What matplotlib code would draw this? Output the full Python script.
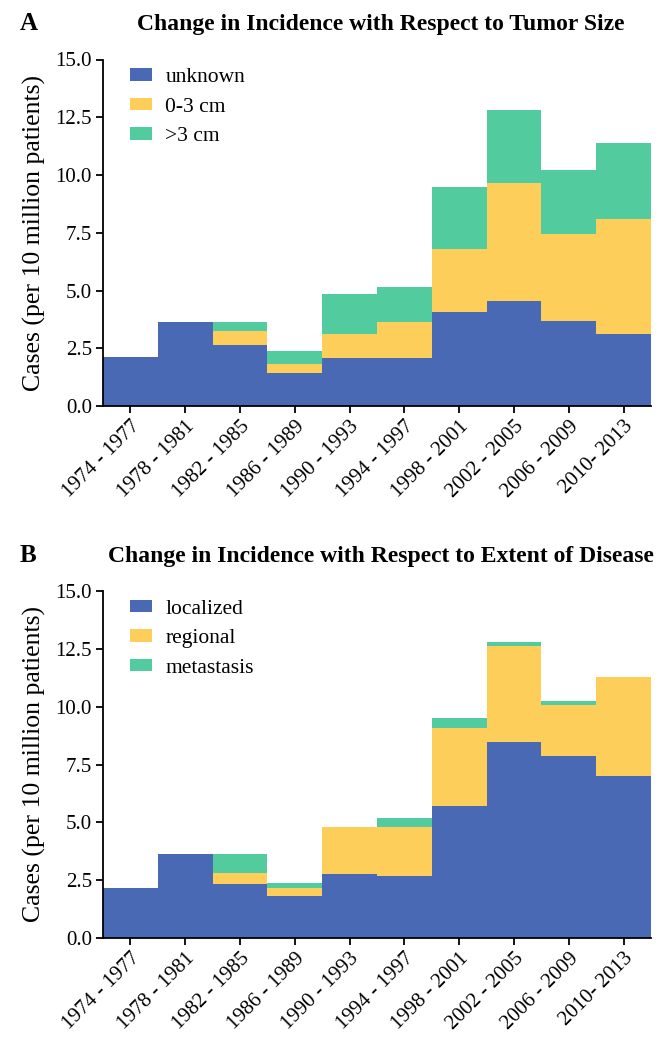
import matplotlib
matplotlib.use("Agg")
import matplotlib.pyplot as plt
from matplotlib.patches import Patch
import numpy as np

plt.rcParams['font.family'] = ['Liberation Serif', 'DejaVu Serif']

periods = ["1974 - 1977", "1978 - 1981", "1982 - 1985", "1986 - 1989", "1990 - 1993",
           "1994 - 1997", "1998 - 2001", "2002 - 2005", "2006 - 2009", "2010- 2013"]

# Panel A: tumor size
size_unknown = [2.13, 3.64, 2.63, 1.45, 2.07, 2.07, 4.07, 4.56, 3.69, 3.12]
size_0_3cm   = [0.00, 0.00, 0.63, 0.38, 1.06, 1.57, 2.74, 5.11, 3.74, 4.98]
size_gt3cm   = [0.00, 0.00, 0.38, 0.56, 1.74, 1.53, 2.65, 3.15, 2.77, 3.30]

# Panel B: extent of disease
ext_localized  = [2.14, 3.62, 2.32, 1.82, 2.76, 2.70, 5.69, 8.48, 7.88, 7.01]
ext_regional   = [0.00, 0.00, 0.49, 0.32, 2.05, 2.11, 3.37, 4.15, 2.19, 4.29]
ext_metastasis = [0.00, 0.00, 0.81, 0.23, 0.00, 0.38, 0.44, 0.18, 0.19, 0.00]

labels_a = ["unknown", "0-3 cm", ">3 cm"]
labels_b = ["localized", "regional", "metastasis"]
colors = ["#4A69B5", "#FECE5B", "#52CC9F"]

W, H = 665, 1050
fig = plt.figure(figsize=(W / 100, H / 100), dpi=100)

def px_axes(left, top, right, bottom):
    return fig.add_axes([left / W, 1 - bottom / H, (right - left) / W, (bottom - top) / H])

def panel(ax, series, labels, title, letter, base_y):
    x = np.arange(len(periods))
    bottom = np.zeros(len(periods))
    for vals, c in zip(series, colors):
        v = np.array(vals)
        ax.bar(x, v, width=1.0, bottom=bottom, color=c, linewidth=0, align='center')
        bottom += v
    ax.set_xlim(-0.5, len(periods) - 0.5)
    ax.set_ylim(0, 15)
    yt = np.arange(0, 15.01, 2.5)
    ax.set_yticks(yt)
    ax.set_yticklabels([f"{t:.1f}" for t in yt], fontsize=15)
    ax.set_xticks(x)
    ax.set_xticklabels(periods, rotation=45, ha='right', rotation_mode='anchor', fontsize=15)
    for s in ['top', 'right']:
        ax.spines[s].set_visible(False)
    for s in ['left', 'bottom']:
        ax.spines[s].set_linewidth(1.3)
    ax.tick_params(axis='both', direction='out', length=5, width=1.3, pad=3)
    ax.set_ylabel("Cases (per 10 million patients)", fontsize=18.5, labelpad=7)
    handles = [Patch(facecolor=c, edgecolor='none') for c in colors]
    ax.legend(handles, labels, loc='upper left', bbox_to_anchor=(0.049, 0.975), frameon=False,
              fontsize=15.5, handlelength=1.05, handleheight=0.5, labelspacing=0.49,
              handletextpad=0.6, borderaxespad=0.0, borderpad=0.0)
    fig.text(381 / W, 1 - base_y / H, title, ha='center', va='baseline', fontsize=17,
             fontweight='bold')
    fig.text(20 / W, 1 - base_y / H, letter, ha='left', va='baseline', fontsize=18,
             fontweight='bold')

axA = px_axes(103, 59.5, 651, 406)
panel(axA, [size_unknown, size_0_3cm, size_gt3cm], labels_a,
      "Change in Incidence with Respect to Tumor Size", "A", 30)

axB = px_axes(103, 591, 651, 938)
panel(axB, [ext_localized, ext_regional, ext_metastasis], labels_b,
      "Change in Incidence with Respect to Extent of Disease", "B", 562)

fig.savefig("out.png", dpi=100)
